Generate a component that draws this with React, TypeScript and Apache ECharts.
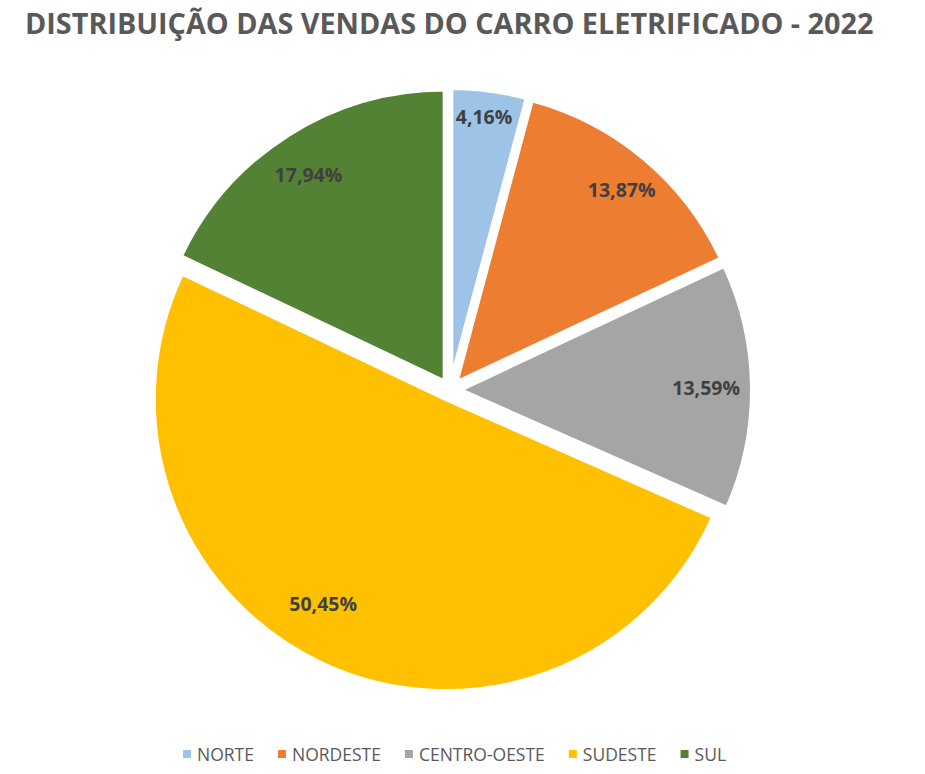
import React, { useEffect, useRef } from "react";
import * as echarts from "echarts";

const categories = ["NORTE", "NORDESTE", "CENTRO-OESTE", "SUDESTE", "SUL"];
const shares = [4.16, 13.87, 13.59, 50.45, 17.94];
const colors = ["#9DC3E6", "#ED7D31", "#A5A5A5", "#FFC000", "#548235"];

// small best-fit nudges for label placement (style only), [dx, dy]
const labelNudges = [
  [0, -15],
  [4, 0],
  [-5, 0],
  [-18, -24],
  [-2, 5],
];

export default function App() {
  const ref = useRef<HTMLDivElement>(null);
  useEffect(() => {
    document.body.style.margin = "0";
    const chart = echarts.init(ref.current!, null, { renderer: "svg" });
    const center = [450, 390];
    const R = 292;
    const pieData = categories.map((name, i) => ({
      name,
      value: shares[i],
      selected: true,
      itemStyle: { color: colors[i] },
    }));
    chart.setOption({
      animation: false,
      title: {
        text: "DISTRIBUIÇÃO DAS VENDAS DO CARRO ELETRIFICADO - 2022",
        left: 20,
        top: 3,
        textStyle: {
          fontFamily: "'Open Sans', sans-serif",
          fontWeight: "bold",
          fontSize: 28.8,
          color: "#595959",
        },
      },
      legend: {
        data: categories,
        bottom: 6,
        left: 176,
        icon: "rect",
        itemWidth: 10,
        itemHeight: 10,
        itemGap: 22,
        textStyle: {
          fontFamily: "'Open Sans', sans-serif",
          fontSize: 17.5,
          color: "#595959",
        },
      },
      series: [
        {
          type: "pie",
          center,
          radius: [0, R],
          startAngle: 90,
          clockwise: true,
          selectedMode: "multiple",
          selectedOffset: 10,
          emphasis: { disabled: true },
          itemStyle: { borderColor: "#ffffff", borderWidth: 4 },
          label: { show: false },
          labelLine: { show: false },
          data: pieData,
        },
        {
          type: "pie",
          center,
          radius: [R * 0.72, R * 0.98],
          startAngle: 90,
          clockwise: true,
          selectedMode: "multiple",
          selectedOffset: 10,
          silent: true,
          emphasis: { disabled: true },
          itemStyle: { color: "rgba(0,0,0,0)" },
          label: {
            show: true,
            position: "inside",
            fontFamily: "'Open Sans', sans-serif",
            fontWeight: "bold",
            fontSize: 19.5,
            color: "#404040",
            formatter: (p: any) => p.value.toFixed(2).replace(".", ",") + "%",
          },
          labelLayout: (p: any) => ({
            dx: labelNudges[p.dataIndex][0],
            dy: labelNudges[p.dataIndex][1],
          }),
          labelLine: { show: false },
          data: categories.map((name, i) => ({
            name,
            value: shares[i],
            selected: true,
            itemStyle: { color: "rgba(0,0,0,0)" },
          })),
        },
      ],
    });
    return () => chart.dispose();
  }, []);
  return <div ref={ref} style={{ width: 925, height: 774 }} />;
}
